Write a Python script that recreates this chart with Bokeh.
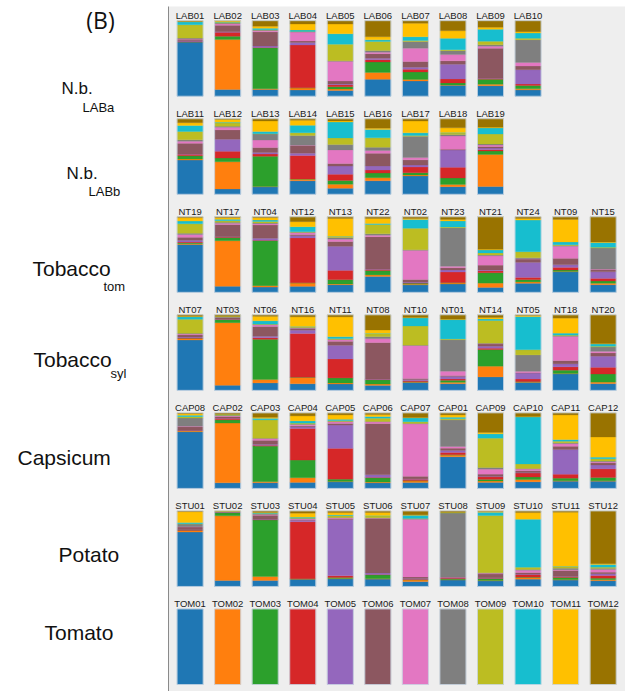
from bokeh.plotting import figure
from bokeh.models import ColumnDataSource, Range1d
from bokeh.core.properties import value
from bokeh.embed import file_html
from bokeh.resources import INLINE

# Ancestry clusters K1..K12, stacked bottom to top in this order
cluster_colors = ["#1f77b4", "#ff7f0e", "#2ca02c", "#d62728", "#9467bd", "#8c5760",
                  "#e377c2", "#7f7f7f", "#bcbd22", "#17becf", "#ffc000", "#997300"]

# ---- membership proportions per isolate (12 clusters, normalised below) ----
laba_names = ["LAB01", "LAB02", "LAB03", "LAB04", "LAB05", "LAB06", "LAB07", "LAB08", "LAB09", "LAB10"]
laba_q = [
    [73, 0.3, 0.3, 0.3, 1, 2, 0.5, 1, 18, 4, 0.5, 1],
    [9, 66, 4.4, 5.3, 0.5, 8.8, 2, 1, 1, 0.5, 1, 0.5],
    [9, 1, 55, 0.3, 2, 19, 1.8, 0.5, 0.5, 2, 2.6, 7.5],
    [8.4, 2.6, 0.3, 57, 3.5, 2, 12, 0.3, 0.3, 2, 8, 4.4],
    [7.5, 2, 3, 2.6, 1, 4, 26, 0.5, 22, 13.7, 12.8, 4.4],
    [22, 9, 13.7, 3, 1.8, 6, 2, 2, 12, 2, 4, 21],
    [20, 2, 10, 3.5, 2.6, 7.5, 17.6, 8.8, 1.3, 5, 17.6, 3.5],
    [14, 0.5, 2.6, 5, 19, 4.4, 8, 5, 1.3, 14.5, 9.7, 13],
    [14, 2, 6.6, 1, 0.5, 40, 2.6, 1.8, 4.8, 16, 2.6, 8.8],
    [8.4, 1.3, 4.4, 2, 19, 4.8, 4.8, 30, 1.8, 7, 1.8, 14.5],
]

labb_names = ["LAB11", "LAB12", "LAB13", "LAB14", "LAB15", "LAB16", "LAB17", "LAB18", "LAB19"]
labb_q = [
    [45, 1.3, 4.4, 2, 0.5, 14, 2.7, 1.8, 11, 8, 3.5, 5.3],
    [7, 36, 4.9, 8.9, 16, 12.4, 3.5, 1.3, 4.4, 1, 3.5, 1],
    [9.8, 0.5, 40, 3, 2, 6.7, 9.8, 8, 0.5, 3, 13.8, 3],
    [17.8, 2, 0.5, 31, 3, 10, 0.5, 13, 3.5, 9.8, 6.7, 2],
    [8, 5.3, 4.9, 8.4, 10.7, 3.5, 17.8, 7, 8.9, 21, 1.3, 3],
    [17.8, 4, 6.2, 4, 5.3, 16.9, 3.5, 4.4, 12.4, 11, 1.8, 12.4],
    [24, 1.3, 3, 7.5, 2.7, 6.7, 3, 28, 1, 3.5, 15.5, 3],
    [10, 3, 8.4, 14, 22.7, 1.3, 17.3, 2, 2, 0.5, 6.2, 12],
    [10, 42, 4.4, 1.8, 2, 2, 2, 1.3, 13, 8, 1, 11],
]

tom_names = ["NT19", "NT17", "NT04", "NT12", "NT13", "NT22", "NT02", "NT23", "NT21", "NT24", "NT09", "NT15"]
tom_q = [
    [63, 1, 1.5, 1, 2.2, 4, 3.5, 1.8, 12.4, 3.5, 4.4, 1.3],
    [8, 60.6, 4.4, 0.5, 0.5, 16, 1.8, 1.3, 2, 2, 2, 1.3],
    [7, 1.8, 60, 0.3, 2.7, 17.7, 1.8, 1, 1.8, 2, 3, 1.3],
    [8, 4.4, 0.5, 60, 3, 1.5, 2.7, 0.5, 0.5, 7, 6.6, 6.6],
    [10, 1, 5.8, 12.4, 31.9, 6.6, 3, 2.2, 1.3, 0.5, 23.5, 2.2],
    [21, 2, 5.8, 1.3, 0.5, 43, 2, 1.8, 12.4, 1.3, 6.6, 2.2],
    [10, 1, 1.3, 0.5, 1, 3.5, 39.4, 0.5, 29, 12, 1.3, 2.2],
    [11, 1.3, 0.5, 14, 2.7, 3, 1.8, 51, 1, 8, 2, 3.5],
    [6.6, 5.8, 14, 2.7, 1, 6.6, 12.8, 1, 2.7, 4, 1, 43.8],
    [12, 1.8, 3, 3, 20, 4.4, 0.5, 1.3, 8, 42, 2.2, 2.2],
    [27, 0.5, 1.8, 3.5, 3.5, 8.4, 16, 1, 1, 3.5, 29.6, 3.5],
    [10, 2, 3, 3.5, 8.8, 3, 0.5, 27.9, 1.3, 6.2, 0.5, 33.6],
]

syl_names = ["NT07", "NT03", "NT06", "NT16", "NT11", "NT08", "NT10", "NT01", "NT14", "NT05", "NT18", "NT20"]
syl_q = [
    [67.5, 2, 0.5, 0.5, 1, 3, 1, 1, 18.7, 3.5, 0.5, 2],
    [6.7, 84.4, 4.4, 0.3, 0.3, 2, 0.3, 0.3, 0.3, 0.3, 0.3, 2],
    [9.8, 4.4, 53, 2, 2, 13, 2, 0.5, 0.5, 4.4, 5.8, 2],
    [8.9, 8.4, 0.3, 59, 4.4, 2, 0.5, 1, 1, 0.5, 12.9, 2.7],
    [8.4, 1.3, 6.7, 25, 18, 5.3, 2, 0.5, 1, 2.7, 26, 2.7],
    [6.7, 1.8, 5.8, 0.5, 0.5, 49, 5.3, 2.7, 4, 0.5, 4.4, 20.4],
    [10.7, 0.5, 0.5, 1.3, 1.5, 1.5, 44.4, 0.5, 25.8, 11, 0.5, 3.5],
    [8.9, 1.8, 2.7, 1.8, 3.5, 1, 5.8, 42, 1, 25.8, 0.5, 5.8],
    [17.8, 14.2, 22, 1.8, 2.7, 3, 0.5, 0.5, 30, 2, 2, 3.5],
    [10.7, 0.5, 0.5, 3.5, 8, 0.5, 1.8, 22, 7, 44.4, 1.3, 1],
    [22, 0.5, 4.4, 4.4, 4, 4.4, 32.4, 0.5, 1, 2.7, 20, 4.4],
    [8.9, 2, 10.7, 8.9, 14.7, 4.4, 2, 5.8, 1, 3, 0.5, 38],
]

cap_names = ["CAP08", "CAP02", "CAP03", "CAP04", "CAP05", "CAP06", "CAP07", "CAP01", "CAP09", "CAP10", "CAP11", "CAP12"]
cap_q = [
    [76, 1.3, 0.3, 0.3, 0.5, 4.4, 0.5, 11, 2, 2, 2, 1],
    [7.5, 80, 4.4, 2, 0.5, 2, 1, 0.5, 0.5, 0.5, 0.5, 1.8],
    [7.5, 1.3, 46.5, 1, 1.3, 5.3, 2.2, 0.5, 24, 2, 1.3, 5.8],
    [8, 6.2, 23.5, 42, 2.2, 1.3, 1.8, 0.5, 1.3, 3, 6.6, 4],
    [8.8, 0.5, 3, 41, 31, 2.2, 2.2, 0.5, 1, 1.8, 5.8, 2.7],
    [7.5, 1, 5.8, 0.5, 3.5, 68.6, 2.2, 0.5, 4.4, 2.2, 2.7, 2.2],
    [8, 2, 0.5, 1.8, 0.5, 3.5, 70.8, 0.5, 2.2, 5.3, 0.5, 6.2],
    [42, 2.2, 0.5, 3, 2.7, 3, 2.2, 35.4, 1.5, 2, 3, 2.7],
    [8, 1.8, 2.2, 3.5, 0.5, 3, 6.6, 2.2, 39, 5.8, 1.8, 26],
    [8.8, 3, 3.5, 5.3, 0.5, 2.7, 2.2, 0.5, 6.2, 63, 0.5, 4.9],
    [9.7, 0.5, 3.5, 5.3, 33, 4.4, 3.5, 1, 2.2, 2.2, 33, 2.7],
    [9.7, 0.5, 4.4, 11.5, 5.3, 3, 1.3, 1, 3, 2.2, 27, 32.3],
]

stu_names = ["STU01", "STU02", "STU03", "STU04", "STU05", "STU06", "STU07", "STU08", "STU09", "STU10", "STU11", "STU12"]
stu_q = [
    [73.6, 2.2, 0.3, 0.3, 0.5, 3.5, 0.5, 3.5, 0.5, 1.8, 14.5, 1],
    [8, 86.8, 4.4, 0.2, 0.2, 0.3, 0.2, 0.2, 0.2, 0.2, 0.2, 0.5],
    [8, 5.3, 76, 0.3, 0.5, 5.3, 1, 1, 0.5, 1, 0.5, 1.8],
    [9.7, 0.3, 0.3, 76, 2, 0.5, 1.3, 0.5, 0.5, 1.3, 5.3, 3],
    [10, 0.5, 1.3, 2.2, 74, 1, 1, 0.5, 2.5, 1, 3, 2.2],
    [10, 0.5, 5.3, 0.3, 2.2, 73.6, 0.5, 0.5, 2.6, 0.5, 4, 2.2],
    [6.6, 2.2, 0.5, 0.5, 1, 2.2, 78.4, 0.5, 0.5, 4.4, 0.5, 5.3],
    [8.8, 0.3, 1.3, 0.9, 0.3, 0.9, 0.3, 86, 0.3, 0.3, 0.3, 1.8],
    [7.5, 0.5, 2.6, 0.5, 0.5, 5.3, 1, 0.5, 77, 4.4, 1, 0.8],
    [9.7, 2.2, 0.5, 3.5, 0.5, 2.2, 3, 1, 3, 63.9, 8.8, 2.2],
    [8.8, 0.5, 3, 1, 0.5, 8, 1, 2.2, 2.2, 0.5, 74, 1.8],
    [7.5, 1.3, 2, 3.5, 2.2, 2.2, 3.5, 1.5, 1.5, 3.5, 1, 69],
]

tomato_names = ["TOM01", "TOM02", "TOM03", "TOM04", "TOM05", "TOM06", "TOM07", "TOM08", "TOM09", "TOM10", "TOM11", "TOM12"]
tomato_q = [[100 if k == i else 0 for k in range(12)] for i in range(12)]

row_titles = ["N.b.", "N.b.", "Tobacco", "Tobacco", "Capsicum", "Potato", "Tomato"]
row_subs = ["LABa", "LABb", "tom", "syl", "", "", ""]
rows = [(laba_names, laba_q), (labb_names, labb_q), (tom_names, tom_q), (syl_names, syl_q),
        (cap_names, cap_q), (stu_names, stu_q), (tomato_names, tomato_q)]

# ---- page layout (screen units, y grows downward) ----
W, H = 625, 691
PANEL_LEFT, PANEL_TOP = 168, 6
COL0, COL_STEP, BAR_W = 189.6, 37.55, 26
ROW0_BOTTOM, ROW_STEP, BAR_H = 95.7, 98.05, 75.5

p = figure(width=W, height=H, output_backend="svg", toolbar_location=None,
           x_range=Range1d(0, W), y_range=Range1d(H, 0),
           x_axis_location=None, y_axis_location=None, min_border=0,
           background_fill_color="white", border_fill_color="white")
p.grid.visible = False
p.outline_line_color = None

# gray panel holding the bars, with its left rule
p.quad(left=[PANEL_LEFT], right=[W], top=[PANEL_TOP], bottom=[H],
       fill_color="#eeeeee", line_color=None)
p.segment(x0=[PANEL_LEFT], y0=[PANEL_TOP], x1=[PANEL_LEFT], y1=[H],
          line_color="#8a8a8a", line_width=1)

seg = dict(left=[], right=[], top=[], bottom=[], color=[])
frame = dict(left=[], right=[], top=[], bottom=[])
lab = dict(x=[], y=[], text=[])
for r, (names, qs) in enumerate(rows):
    bottom_y = ROW0_BOTTOM + r * ROW_STEP
    for c, (name, q) in enumerate(zip(names, qs)):
        xc = COL0 + c * COL_STEP
        total = float(sum(q))
        acc = 0.0
        for k, v in enumerate(q):
            if v <= 0:
                continue
            y0 = bottom_y - acc / total * BAR_H
            acc += v
            y1 = bottom_y - acc / total * BAR_H
            seg["left"].append(xc - BAR_W / 2)
            seg["right"].append(xc + BAR_W / 2)
            seg["bottom"].append(y0)
            seg["top"].append(y1)
            seg["color"].append(cluster_colors[k])
        frame["left"].append(xc - BAR_W / 2)
        frame["right"].append(xc + BAR_W / 2)
        frame["bottom"].append(bottom_y)
        frame["top"].append(bottom_y - BAR_H)
        lab["x"].append(xc)
        lab["y"].append(bottom_y - BAR_H - 5.5)
        lab["text"].append(name)

p.quad(left="left", right="right", top="top", bottom="bottom", fill_color="color",
       line_color="color", line_width=0.3, source=ColumnDataSource(seg))
p.quad(left="left", right="right", top="top", bottom="bottom", fill_color=None,
       line_color="#c9d6e3", line_width=1, line_alpha=0.8, source=ColumnDataSource(frame))
p.text(x="x", y="y", text="text", source=ColumnDataSource(lab),
       text_font=value("Liberation Sans"), text_font_size="9.5px", text_color="#1a1a1a",
       text_align="center", text_baseline="middle")

# panel letter
p.text(x=[100], y=[19], text=["(B)"], text_font=value("Open Sans"), text_font_size="23px",
       text_color="#111111", text_align="center", text_baseline="middle")

# host labels on the left, with subscripts
title_x = [61, 66, 32, 33, 17, 58, 44]
title_y = [88, 173, 268, 359, 457, 554, 632]
title_size = ["17px", "17px", "21px", "21px", "21px", "21px", "21px"]
sub_x = [82, 88, 103, 110, 0, 0, 0]
sub_y = [107, 191, 286, 373, 0, 0, 0]
p.text(x=title_x, y=title_y, text=row_titles, text_font=value("Liberation Sans"),
       text_font_size=title_size, text_color="#111111", text_align="left", text_baseline="middle")
sx = [x for x, s in zip(sub_x, row_subs) if s]
sy = [y for y, s in zip(sub_y, row_subs) if s]
st = [s for s in row_subs if s]
p.text(x=sx, y=sy, text=st, text_font=value("Liberation Sans"), text_font_size="13px",
       text_color="#111111", text_align="left", text_baseline="middle")

open("out.html", "w").write(file_html(p, INLINE))
